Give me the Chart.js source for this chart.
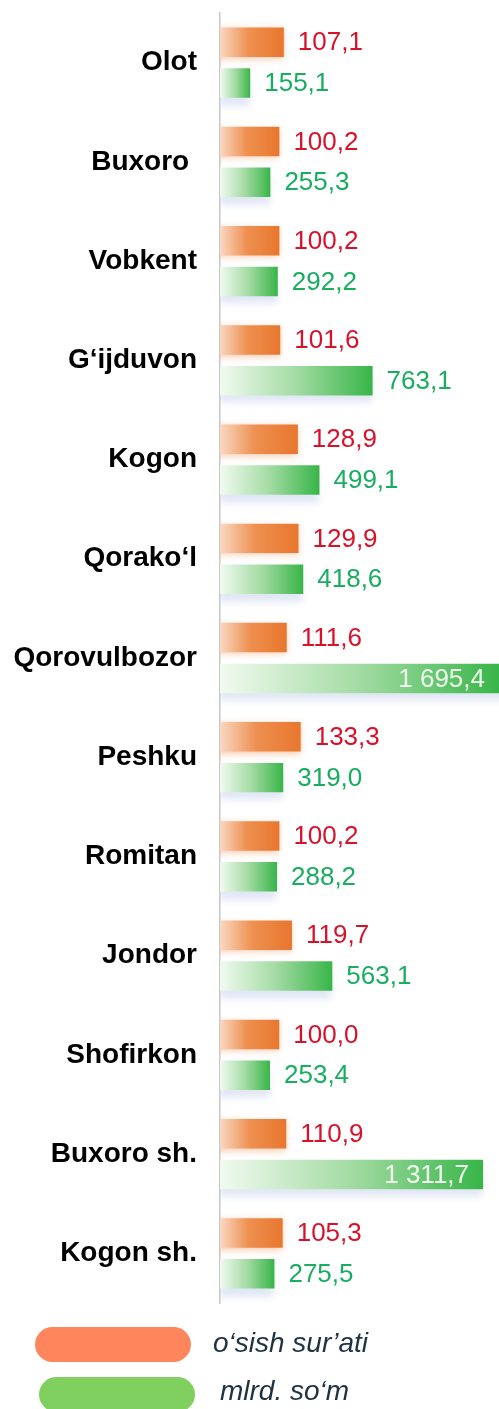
<!DOCTYPE html>
<html>
<head>
<meta charset="utf-8">
<script src="https://cdn.jsdelivr.net/npm/chart.js@4.4.1/dist/chart.umd.min.js"></script>
<style>
  html, body { margin: 0; padding: 0; background: #ffffff; }
  #wrap { position: relative; width: 499px; height: 1409px; }
</style>
</head>
<body>
<div id="wrap"><canvas id="c"></canvas></div>
<script>
// ---- data ----
const categories = ['Olot', 'Buxoro ', 'Vobkent', 'G‘ijduvon', 'Kogon', 'Qorako‘l', 'Qorovulbozor', 'Peshku', 'Romitan', 'Jondor', 'Shofirkon', 'Buxoro sh.', 'Kogon sh.'];
const growthRate = [107.1, 100.2, 100.2, 101.6, 128.9, 129.9, 111.6, 133.3, 100.2, 119.7, 100.0, 110.9, 105.3];
const amountBn = [155.1, 255.3, 292.2, 763.1, 499.1, 418.6, 1695.4, 319.0, 288.2, 563.1, 253.4, 1311.7, 275.5];
const seriesLabels = ['o‘sish sur’ati', 'mlrd. so‘m'];

// ---- styles ----
const FONT = "'Liberation Sans', Arial, sans-serif";
const LEGEND_COLORS = ['#ff865c', '#80d060'];
const LABEL_COLORS = ['#d8122b', '#19ad60'];
const INSIDE_LABEL_COLOR = '#f0fbef';

function fmt(v) {
  const s = v.toFixed(1).split('.');
  const intPart = s[0].replace(/\B(?=(\d{3})+(?!\d))/g, ' ');
  return intPart + ',' + s[1];
}

function makeGradient(ctx, axisId, stops, fallback) {
  const chart = ctx.chart;
  const ca = chart.chartArea;
  if (!ca || ctx.type !== 'data') return fallback;
  const sc = chart.scales[axisId];
  const x0 = ca.left;
  let x1 = Math.min(sc.getPixelForValue(ctx.raw), ca.right);
  if (x1 - x0 < 2) x1 = x0 + 2;
  const g = chart.ctx.createLinearGradient(x0, 0, x1, 0);
  stops.forEach(s => g.addColorStop(s[0], s[1]));
  return g;
}

const shadowPlugin = {
  id: 'barShadow',
  beforeDatasetDraw(chart, args) {
    const c = chart.ctx;
    c.save();
    if (args.index === 0) {
      c.shadowColor = 'rgba(240,140,80,0.45)';
      c.shadowBlur = 7;
      c.shadowOffsetX = 0;
      c.shadowOffsetY = 2;
    } else {
      c.shadowColor = 'rgba(170,185,225,0.35)';
      c.shadowBlur = 7;
      c.shadowOffsetX = 0;
      c.shadowOffsetY = 8;
    }
  },
  afterDatasetDraw(chart) {
    chart.ctx.restore();
  }
};

const valueLabelPlugin = {
  id: 'valueLabels',
  afterDatasetsDraw(chart) {
    const c = chart.ctx;
    const ca = chart.chartArea;
    c.save();
    c.font = '26px ' + FONT;
    c.textBaseline = 'middle';
    chart.data.datasets.forEach((ds, di) => {
      const meta = chart.getDatasetMeta(di);
      meta.data.forEach((bar, i) => {
        const txt = fmt(ds.data[i]);
        const w = c.measureText(txt).width;
        const end = Math.min(bar.x, ca.right);
        const gap = 14;
        if (bar.x + gap + w > ca.right) {
          c.fillStyle = INSIDE_LABEL_COLOR;
          c.textAlign = 'right';
          c.fillText(txt, end - gap, bar.y + 1);
        } else {
          c.fillStyle = LABEL_COLORS[di];
          c.textAlign = 'left';
          c.fillText(txt, end + gap, bar.y + 1);
        }
      });
    });
    c.restore();
  }
};

const legendPlugin = {
  id: 'customLegend',
  afterDraw(chart) {
    const c = chart.ctx;
    const items = [
      { x: 35, y: 1327, w: 156, h: 35, tx: 213, ty: 1344 },
      { x: 39, y: 1377, w: 156, h: 35, tx: 220, ty: 1392 }
    ];
    c.save();
    items.forEach((it, i) => {
      const r = it.h / 2;
      c.fillStyle = LEGEND_COLORS[i];
      c.beginPath();
      c.moveTo(it.x + r, it.y);
      c.lineTo(it.x + it.w - r, it.y);
      c.arc(it.x + it.w - r, it.y + r, r, -Math.PI / 2, Math.PI / 2);
      c.lineTo(it.x + r, it.y + it.h);
      c.arc(it.x + r, it.y + r, r, Math.PI / 2, Math.PI * 1.5);
      c.closePath();
      c.fill();
      c.fillStyle = '#1f3241';
      c.font = 'italic 28px ' + FONT;
      c.textAlign = 'left';
      c.textBaseline = 'middle';
      c.fillText(chart.data.datasets[i].label, it.tx, it.ty);
    });
    c.restore();
  }
};

new Chart(document.getElementById('c'), {
  type: 'bar',
  data: {
    labels: categories,
    datasets: [
      {
        label: seriesLabels[0],
        data: growthRate,
        xAxisID: 'x',
        backgroundColor: ctx => makeGradient(ctx, 'x', [[0, '#f9d8c2'], [0.45, '#ee9050'], [1, '#e8762e']], '#e8762e'),
        categoryPercentage: 0.822,
        barPercentage: 0.723
      },
      {
        label: seriesLabels[1],
        data: amountBn,
        xAxisID: 'x2',
        backgroundColor: ctx => makeGradient(ctx, 'x2', [[0, '#f1faf0'], [0.5, '#a3dba3'], [1, '#38b548']], '#38b548'),
        categoryPercentage: 0.822,
        barPercentage: 0.723
      }
    ]
  },
  options: {
    indexAxis: 'y',
    responsive: true,
    maintainAspectRatio: false,
    animation: false,
    layout: { padding: { top: 13, bottom: 106, left: 0, right: 0 } },
    plugins: {
      legend: { display: false },
      tooltip: { enabled: false }
    },
    scales: {
      x: { display: false, min: 7.8, max: 441.7, grid: { display: false } },
      x2: { display: false, min: 5, max: 1391, grid: { display: false } },
      y: {
        grid: { display: false, drawTicks: false },
        border: { display: true, color: '#c8c8c8', width: 1.5 },
        ticks: { color: '#000000', font: { family: FONT, size: 28, weight: 'bold' }, padding: 23 },
        afterFit: s => { s.width = 220; s.paddingTop = 0; s.paddingBottom = 0; }
      }
    }
  },
  plugins: [shadowPlugin, valueLabelPlugin, legendPlugin]
});
</script>
</body>
</html>
